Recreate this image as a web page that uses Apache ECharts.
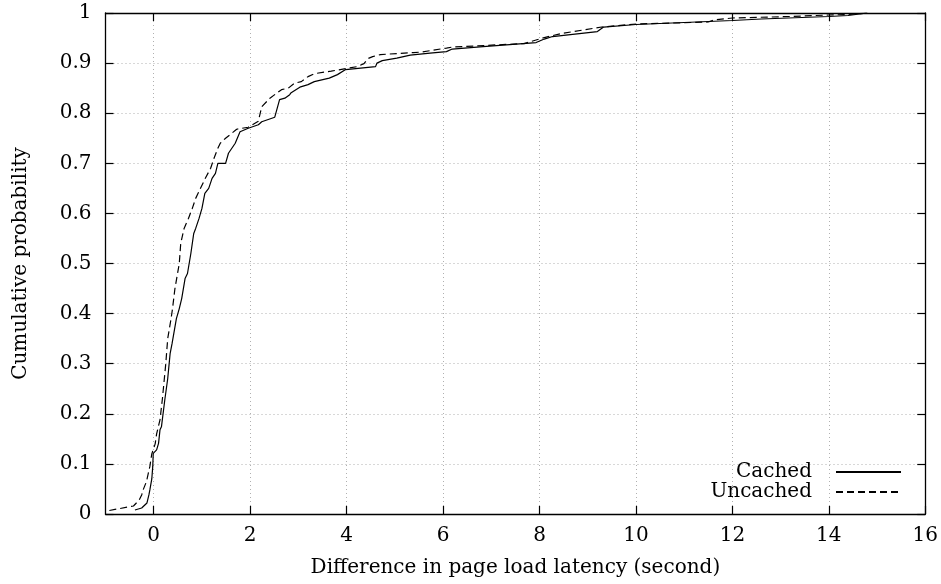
<!DOCTYPE html>
<html>
<head>
<meta charset="utf-8">
<script src="https://cdn.jsdelivr.net/npm/echarts@6/dist/echarts.min.js"></script>
<style>
html,body{margin:0;padding:0;background:#fff;}
#chart{width:941px;height:584px;}
</style>
</head>
<body>
<div id="chart"></div>
<script>
var seriesNames = ['Cached', 'Uncached'];
var xTicks = [0, 2, 4, 6, 8, 10, 12, 14, 16];
var yTicks = [0, 0.1, 0.2, 0.3, 0.4, 0.5, 0.6, 0.7, 0.8, 0.9, 1];
var xTitle = 'Difference in page load latency (second)';
var yTitle = 'Cumulative probability';

var cachedX = [-0.39,-0.25,-0.14,-0.1,-0.08,-0.04,-0.02,-0.01,0.06,0.1,0.13,0.16,0.23,0.29,0.34,0.38,0.47,0.53,0.58,0.65,0.70,0.77,0.83,0.87,0.94,1.0,1.06,1.14,1.21,1.28,1.33,1.49,1.55,1.69,1.79,1.96,2.17,2.24,2.51,2.61,2.72,2.82,2.85,3.03,3.2,3.33,3.64,3.81,3.98,4.29,4.6,4.63,4.74,5.04,5.32,5.73,6.07,6.19,6.83,7.93,8.1,8.27,9.2,9.33,10.0,12.0,12.6,14.0,14.4,14.8];
var cachedY = [0.008,0.012,0.022,0.038,0.048,0.07,0.095,0.121,0.128,0.141,0.168,0.174,0.228,0.27,0.32,0.34,0.39,0.41,0.43,0.47,0.48,0.52,0.56,0.57,0.59,0.61,0.64,0.65,0.67,0.68,0.70,0.70,0.72,0.74,0.763,0.77,0.777,0.783,0.792,0.827,0.83,0.837,0.841,0.852,0.857,0.863,0.87,0.877,0.887,0.89,0.893,0.90,0.905,0.91,0.916,0.92,0.923,0.928,0.933,0.941,0.948,0.953,0.963,0.972,0.977,0.985,0.988,0.993,0.995,1.0];

var uncachedX = [-0.92,-0.42,-0.3,-0.25,-0.22,-0.15,-0.08,-0.04,0.03,0.06,0.13,0.18,0.25,0.29,0.36,0.39,0.44,0.53,0.56,0.63,0.72,0.80,0.87,0.92,0.97,1.07,1.18,1.25,1.33,1.38,1.49,1.62,1.72,1.96,2.17,2.24,2.41,2.55,2.65,2.79,2.92,3.06,3.2,3.34,3.68,3.98,4.22,4.36,4.44,4.54,4.7,5.39,5.55,6.07,6.19,7.68,8.1,8.45,9.29,10.0,11.5,11.62,12.0,13.2,14.0,14.4,14.8];
var uncachedY = [0.007,0.016,0.028,0.038,0.048,0.065,0.095,0.12,0.14,0.16,0.188,0.23,0.30,0.35,0.39,0.41,0.45,0.50,0.54,0.57,0.59,0.61,0.63,0.64,0.65,0.67,0.69,0.71,0.73,0.74,0.75,0.76,0.768,0.772,0.784,0.813,0.83,0.84,0.847,0.85,0.86,0.863,0.873,0.879,0.884,0.889,0.893,0.899,0.909,0.913,0.917,0.921,0.922,0.93,0.932,0.939,0.951,0.959,0.972,0.978,0.982,0.986,0.99,0.993,0.996,0.997,1.0];

function pairs(xs, ys) { return xs.map(function (x, i) { return [x, ys[i]]; }); }

var FONT = 'DejaVu Serif';
var FS = 20;
var gridLine = { show: true, lineStyle: { color: '#b0b0b0', type: [1, 3], width: 1 } };

var chart = echarts.init(document.getElementById('chart'), null, { renderer: 'canvas' });
chart.setOption({
  animation: false,
  backgroundColor: '#fff',
  textStyle: { fontFamily: FONT, color: '#000' },
  grid: { left: 105.5, right: 14.5, top: 13, bottom: 70, containLabel: false },
  legend: {
    data: seriesNames,
    orient: 'vertical',
    align: 'right',
    right: 34,
    bottom: 77,
    padding: 5,
    itemWidth: 65,
    itemHeight: 10,
    itemGap: 0,
    itemStyle: { opacity: 0 },
    textStyle: { fontFamily: FONT, fontSize: FS, color: '#000', lineHeight: 20, padding: [0, 19, 0, 0] }
  },
  xAxis: [{
    type: 'value', min: -1, max: 16, interval: 2,
    name: xTitle, nameLocation: 'middle', nameGap: 44,
    nameTextStyle: { fontFamily: FONT, fontSize: FS, color: '#000' },
    axisLine: { show: true, onZero: false, lineStyle: { color: '#000', width: 1.3 } },
    axisTick: { show: true, inside: true, length: 8, lineStyle: { color: '#000', width: 1.2 }, customValues: xTicks },
    axisLabel: { fontFamily: FONT, fontSize: FS, color: '#000', margin: 12, customValues: xTicks },
    splitLine: gridLine
  }, {
    type: 'value', min: -1, max: 16, position: 'top',
    axisLine: { show: true, onZero: false, lineStyle: { color: '#000', width: 1.3 } },
    axisTick: { show: true, inside: true, length: 8, lineStyle: { color: '#000', width: 1.2 }, customValues: xTicks },
    axisLabel: { show: false },
    splitLine: { show: false }
  }],
  yAxis: [{
    type: 'value', min: 0, max: 1, interval: 0.1,
    name: yTitle, nameLocation: 'middle', nameGap: 75, nameRotate: 90,
    nameTextStyle: { fontFamily: FONT, fontSize: FS, color: '#000' },
    axisLine: { show: true, onZero: false, lineStyle: { color: '#000', width: 1.3 } },
    axisTick: { show: true, inside: true, length: 8, lineStyle: { color: '#000', width: 1.2 } },
    axisLabel: { fontFamily: FONT, fontSize: FS, color: '#000', margin: 14,
      formatter: function (v) { return String(Math.round(v * 10) / 10); } },
    splitLine: gridLine
  }, {
    type: 'value', min: 0, max: 1, interval: 0.1, position: 'right',
    axisLine: { show: true, onZero: false, lineStyle: { color: '#000', width: 1.3 } },
    axisTick: { show: true, inside: true, length: 8, lineStyle: { color: '#000', width: 1.2 } },
    axisLabel: { show: false },
    splitLine: { show: false }
  }],
  series: [{
    name: seriesNames[0], type: 'line', xAxisIndex: 0, yAxisIndex: 0,
    data: pairs(cachedX, cachedY), symbol: 'none', showSymbol: false,
    lineStyle: { color: '#000', width: 1.2, type: 'solid' },
    itemStyle: { color: '#000' }
  }, {
    name: seriesNames[1], type: 'line', xAxisIndex: 0, yAxisIndex: 0,
    data: pairs(uncachedX, uncachedY), symbol: 'none', showSymbol: false,
    lineStyle: { color: '#000', width: 1.2, type: [7, 4] },
    itemStyle: { color: '#000' }
  }]
});
</script>
</body>
</html>
